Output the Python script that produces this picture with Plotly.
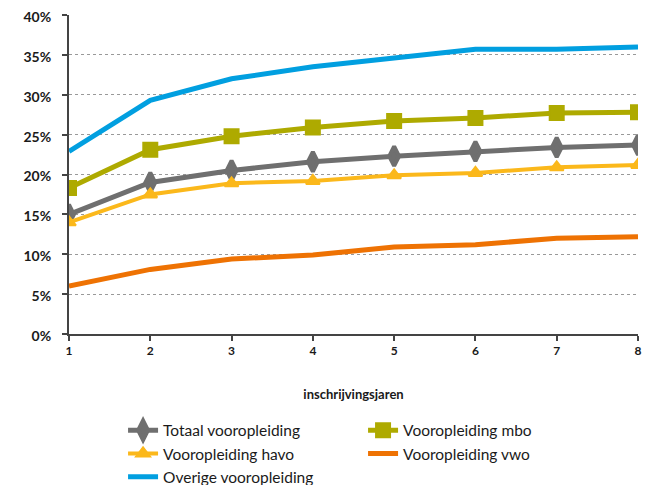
import plotly.graph_objects as go

years = [1, 2, 3, 4, 5, 6, 7, 8]
totaal = [15.0, 19.0, 20.5, 21.6, 22.3, 22.9, 23.4, 23.7]
mbo = [18.3, 23.1, 24.8, 25.9, 26.7, 27.1, 27.7, 27.8]
havo = [14.0, 17.5, 18.9, 19.2, 19.9, 20.2, 20.9, 21.2]
vwo = [6.0, 8.1, 9.4, 9.9, 10.9, 11.2, 12.0, 12.2]
overige = [22.9, 29.3, 32.0, 33.5, 34.6, 35.7, 35.7, 36.0]
y_ticks = [0, 5, 10, 15, 20, 25, 30, 35, 40]

fig = go.Figure()
fig.add_trace(go.Scatter(x=years, y=totaal, name="Totaal vooropleiding", mode="lines+markers",
                         line=dict(color="#6f6f6f", width=5),
                         marker=dict(symbol="diamond-tall", size=14, color="#6f6f6f",
                                     line=dict(color="#6f6f6f", width=4))))
fig.add_trace(go.Scatter(x=years, y=mbo, name="Vooropleiding mbo", mode="lines+markers",
                         line=dict(color="#aeaa00", width=5),
                         marker=dict(symbol="square", size=14, color="#aeaa00",
                                     line=dict(color="#aeaa00", width=2))))
fig.add_trace(go.Scatter(x=years, y=havo, name="Vooropleiding havo", mode="lines+markers",
                         line=dict(color="#fbb81b", width=4),
                         marker=dict(symbol="triangle-up", size=12, color="#fbb81b",
                                     line=dict(color="#fbb81b", width=2))))
fig.add_trace(go.Scatter(x=years, y=vwo, name="Vooropleiding vwo", mode="lines",
                         line=dict(color="#ee7203", width=5)))
fig.add_trace(go.Scatter(x=years, y=overige, name="Overige vooropleiding", mode="lines",
                         line=dict(color="#019fe0", width=5)))

fig.update_layout(
    width=643, height=477,
    margin=dict(l=61, r=13, t=7, b=151, autoexpand=False),
    plot_bgcolor="white", paper_bgcolor="white",
    font=dict(family="Lato", size=13, color="#1a1a1a"),
    xaxis=dict(range=[1, 8], tickmode="array", tickvals=years, ticktext=[str(v) for v in years],
               showgrid=False, showline=True, linecolor="#444", linewidth=2,
               ticks="outside", ticklen=5, tickcolor="#444", tickwidth=2,
               tickfont=dict(family="Lato", size=12, color="#1a1a1a", weight="bold"),
               title=dict(text="<b>inschrijvingsjaren</b>", font=dict(size=13), standoff=32),
               zeroline=False, automargin=False, ticklabeloverflow="allow"),
    yaxis=dict(range=[0, 40], tickmode="array", tickvals=y_ticks,
               ticktext=[f"{v}%" for v in y_ticks],
               showgrid=True, gridcolor="#999", griddash="dot", gridwidth=1,
               showline=True, linecolor="#444", linewidth=2,
               ticks="outside", ticklen=5, tickcolor="#444", tickwidth=2,
               ticklabelstandoff=8, ticklabelshift=2,
               tickfont=dict(family="Lato", size=14, color="#1a1a1a", weight="bold"),
               zeroline=False, automargin=False, ticklabeloverflow="allow"),
    legend=dict(orientation="h", x=0.095, y=-0.25, xanchor="left", yanchor="top",
                entrywidth=195, font=dict(family="Lato", size=15.5, color="#1a1a1a"),
                tracegroupgap=0, itemwidth=30),
)
fig.write_html("out.html")
